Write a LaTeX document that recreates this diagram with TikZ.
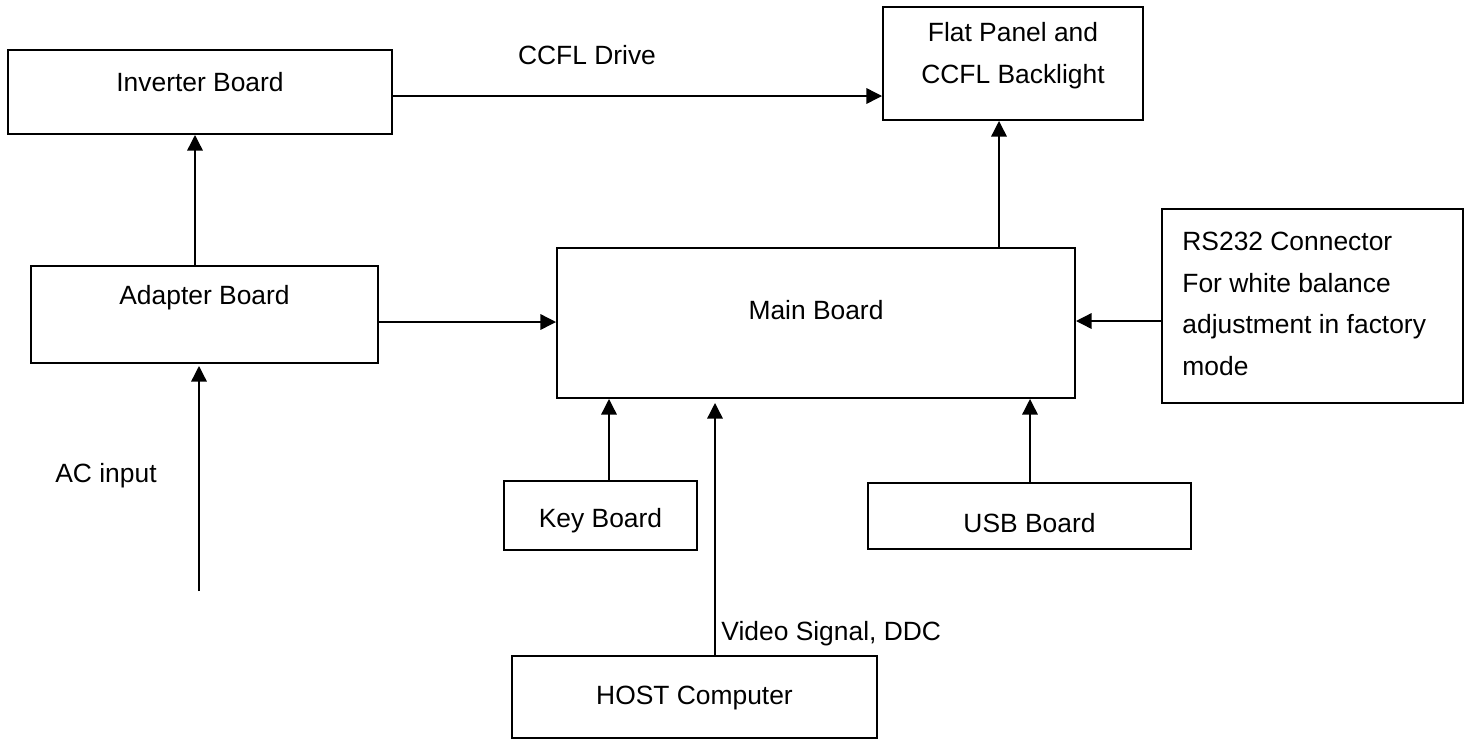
\documentclass[tikz,border=0pt]{standalone}
\usepackage{fontspec}
\setmainfont{Liberation Sans}
\usetikzlibrary{arrows.meta}

\begin{document}
\begin{tikzpicture}[x=0.5pt, y=-0.5pt,
    box/.style={shape=rectangle, draw, line width=1pt, inner sep=0pt},
    txt/.style={inner sep=0pt, font=\fontsize{13.2}{20.7}\selectfont},
    arr/.style={line width=0.7pt, -{Triangle[length=7.8pt,width=7.8pt]}}]
    \useasboundingbox (0,0) rectangle (1471,740);

    % boards
    \node[box, minimum width=192pt, minimum height=42pt, label={[txt,yshift=5pt]center:Inverter Board}] (inv) at (200,92) {};
    \node[box, minimum width=130pt, minimum height=56.5pt, label={[txt,align=center,yshift=4pt]center:{Flat Panel and\\CCFL Backlight}}] (flat) at (1013,63.5) {};
    \node[box, minimum width=173.5pt, minimum height=48.5pt, label={[txt,yshift=8.25pt]center:Adapter Board}] (adp) at (204.5,314.5) {};
    \node[box, minimum width=259pt, minimum height=75pt, label={[txt,yshift=6.5pt]center:Main Board}] (main) at (816,323) {};
    \node[box, minimum width=150.5pt, minimum height=97pt, label={[txt,align=left,anchor=west,xshift=10.5pt,yshift=1pt]west:{RS232 Connector\\For white balance\\adjustment in factory\\mode}}] (rs) at (1312.5,306) {};
    \node[box, minimum width=96.5pt, minimum height=34.5pt, label={[txt,yshift=-2.75pt]center:Key Board}] (key) at (600.5,515.5) {};
    \node[box, minimum width=161.5pt, minimum height=33pt, label={[txt,yshift=-3.5pt]center:USB Board}] (usb) at (1029.5,516) {};
    \node[box, minimum width=182.5pt, minimum height=41pt, label={[txt,yshift=-0.5pt]center:HOST Computer}] (host) at (694.5,697) {};

    % signal names
    \node[txt] (drive) at (587,55) {CCFL Drive};
    \node[txt] (acin) at (106,476) {AC input};
    \node[txt, anchor=west] (video) at (721,634) {Video Signal, DDC};
    \coordinate (ac) at (199,591);

    \draw[arr] ([yshift=-2pt]inv.east) -- ([yshift=-2pt]inv.east -| flat.west);
    \draw[arr] ([xshift=-4.75pt]adp.north) -- ([xshift=-4.75pt]adp.north |- inv.south);
    \draw[arr] ([yshift=-3.75pt]adp.east) -- ([yshift=-3.75pt]adp.east -| main.west);
    \draw[arr] ([xshift=91.5pt]main.north) -- ([xshift=91.5pt]main.north |- flat.south);
    \draw[arr] ([yshift=-7.5pt]rs.west) -- ([yshift=-7.5pt]rs.west -| main.east);
    \draw[arr] ([xshift=4.25pt]key.north) -- ([xshift=4.25pt]key.north |- main.south);
    \draw[arr, shorten >=2pt] ([xshift=10.25pt]host.north) -- ([xshift=10.25pt]host.north |- main.south);
    \draw[arr] ([xshift=0.25pt]usb.north) -- ([xshift=0.25pt]usb.north |- main.south);
    \draw[arr, shorten >=1pt] (ac) -- (ac |- adp.south);
  \end{tikzpicture}
\end{document}
